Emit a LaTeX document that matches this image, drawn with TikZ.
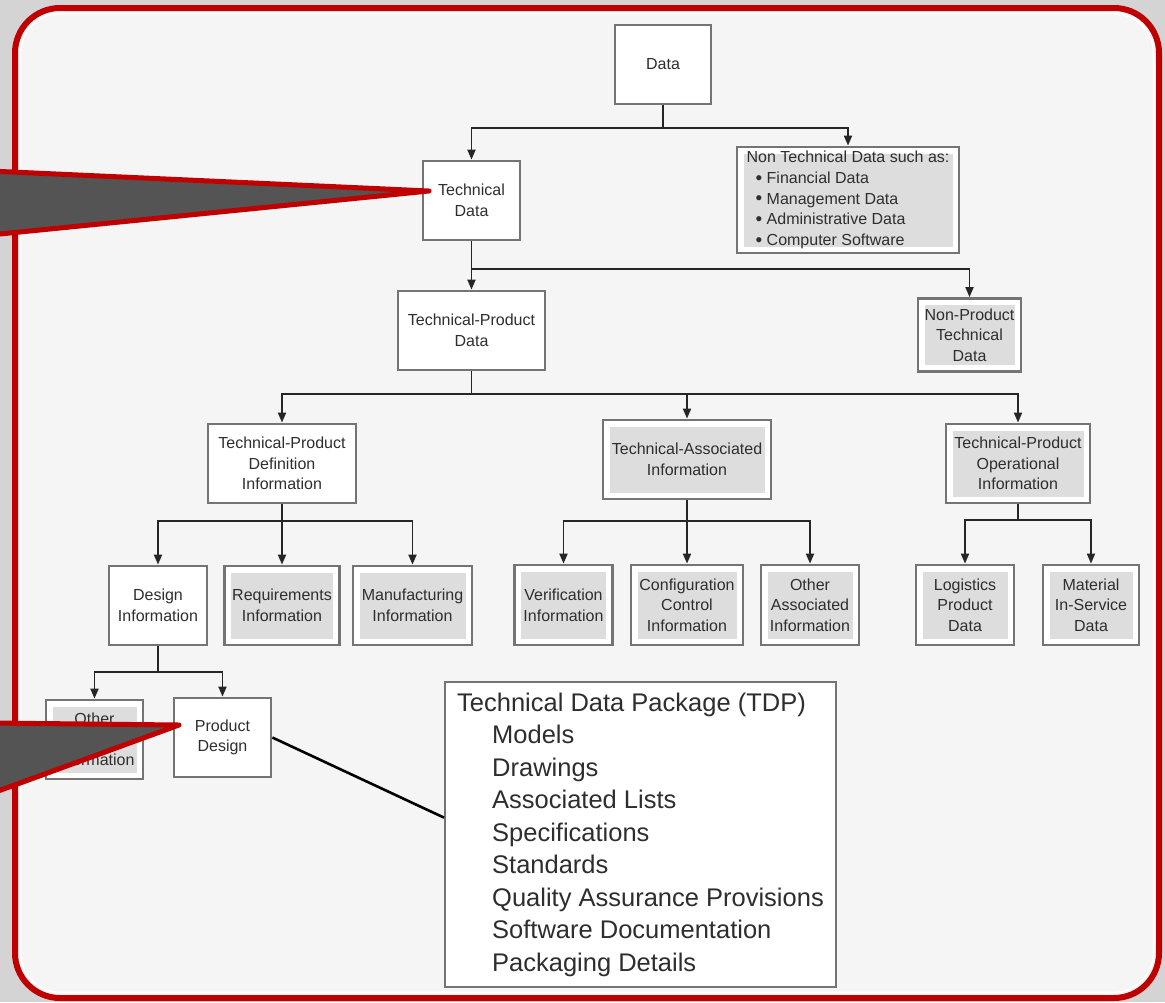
\documentclass[tikz,border=0pt]{standalone}
\usepackage{fontspec}
\setmainfont{Liberation Sans}
\usetikzlibrary{arrows.meta,calc}

\definecolor{framered}{HTML}{C00000}
\definecolor{outerbg}{HTML}{D4D4D4}
\definecolor{panel}{HTML}{F5F5F5}
\definecolor{boxline}{HTML}{747474}
\definecolor{innergray}{HTML}{DEDDDD}
\definecolor{txt}{HTML}{2E2E2E}
\definecolor{connline}{HTML}{262626}
\definecolor{calloutgray}{HTML}{545454}

\newcommand{\bigdot}{{\fontsize{19}{20.7}\selectfont\raisebox{-0.8pt}{\textbullet}}}

\begin{document}
\begin{tikzpicture}[x=1pt,y=-1pt,
  box/.style={draw=boxline, line width=2.8pt, fill=white, align=center,
    text=txt, font=\fontsize{16}{20.7}\selectfont, inner sep=0pt},
  shaded/.style={box, path picture={
    \fill[innergray] ([shift={(6.5pt,-6.5pt)}]path picture bounding box.north west)
      rectangle ([shift={(-6.5pt,6.5pt)}]path picture bounding box.south east);}},
  conn/.style={draw=connline, line width=1.9pt},
  arr/.style={conn, -{Triangle[length=10pt,width=8pt]}},
  callout/.style={fill=calloutgray, draw=framered, line width=5pt, line join=round},
]
\clip (0,0) rectangle (1165,1002);

% page and red frame
\fill[outerbg] (0,0) rectangle (1165,1002);
\draw[framered, line width=6pt, rounded corners=45pt, fill=panel] (15,8) rectangle (1159,998);
\draw[white, line width=1.6pt, rounded corners=40pt] (20.5,13.5) rectangle (1153.5,992.5);

% hierarchy of data
\node[box, minimum width=96pt, minimum height=79pt] (data) at (663,64.5) {Data};
\node[box, minimum width=97pt, minimum height=79pt] (td) at (471.5,200.5) {Technical\\Data};
\node[shaded, minimum width=222pt, minimum height=106pt, align=left] (ntd) at (848,200)
  {Non Technical Data such as:\\
   \hspace*{9pt}\bigdot\ Financial Data\\
   \hspace*{9pt}\bigdot\ Management Data\\
   \hspace*{9pt}\bigdot\ Administrative Data\\
   \hspace*{9pt}\bigdot\ Computer Software};
\node[box, minimum width=147pt, minimum height=79pt] (tpd) at (471.5,330.5) {Technical-Product\\Data};
\node[shaded, minimum width=103pt, minimum height=73pt] (nptd) at (969.5,335) {Non-Product\\Technical\\Data};

\node[box, minimum width=148pt, minimum height=79pt] (tpdi) at (282,463.5) {Technical-Product\\Definition\\Information};
\node[shaded, minimum width=168pt, minimum height=79pt] (tai) at (687,459.5) {Technical-Associated\\Information};
\node[shaded, minimum width=144pt, minimum height=79pt] (tpoi) at (1018,463.5) {Technical-Product\\Operational\\Information};

\node[box, minimum width=98pt, minimum height=79pt] (di) at (158,605.5) {Design\\Information};
\node[shaded, minimum width=115pt, minimum height=79pt] (ri) at (282,605.5) {Requirements\\Information};
\node[shaded, minimum width=119pt, minimum height=79pt] (mi) at (412.5,605.5) {Manufacturing\\Information};

\node[shaded, minimum width=98pt, minimum height=80pt] (vi) at (563.5,605) {Verification\\Information};
\node[shaded, minimum width=112pt, minimum height=80pt] (cci) at (687,605) {Configuration\\Control\\Information};
\node[shaded, minimum width=98pt, minimum height=80pt] (oai) at (810,605) {Other\\Associated\\Information};

\node[shaded, minimum width=98pt, minimum height=80pt] (lpd) at (965,605) {Logistics\\Product\\Data};
\node[shaded, minimum width=96pt, minimum height=80pt] (msd) at (1091,605) {Material\\In-Service\\Data};

\node[shaded, minimum width=97pt, minimum height=79pt] (oi) at (94.5,739.5) {Other\\[20.7pt]Information};
\node[box, minimum width=97pt, minimum height=79pt] (pd) at (222.5,737.5) {Product\\Design};

\node[box, line width=2pt, minimum width=391pt, minimum height=305pt, align=left,
  font=\fontsize{25.5}{32.5}\selectfont, text=txt] (tdp) at (640.5,834.5)
  {Technical Data Package (TDP)\\
   \hspace*{35pt}Models\\
   \hspace*{35pt}Drawings\\
   \hspace*{35pt}Associated Lists\\
   \hspace*{35pt}Specifications\\
   \hspace*{35pt}Standards\\
   \hspace*{35pt}Quality Assurance Provisions\\
   \hspace*{35pt}Software Documentation\\
   \hspace*{35pt}Packaging Details};

% connectors
\draw[arr] (data.south) -- ++(0,23) -| (td.north);
\draw[arr] (data.south) ++(0,23) -| (ntd.north);

\draw[arr] (td.south) -- ++(0,28) -| (tpd.north);
\draw[arr] (td.south) ++(0,28) -| (nptd.north);

\draw[arr] (tpd.south) -- ++(0,23) -| (tpdi.north);
\draw[arr] (tpd.south) ++(0,23) -| (tai.north);
\draw[arr] (tpd.south) ++(0,23) -| (tpoi.north);

\draw[arr] (tpdi.south) -- ++(0,17) -| (di.north);
\draw[arr] (tpdi.south) ++(0,17) -| (ri.north);
\draw[arr] (tpdi.south) ++(0,17) -| (mi.north);

\draw[arr] (tai.south) -- ++(0,21) -| (vi.north);
\draw[arr] (tai.south) ++(0,21) -| (cci.north);
\draw[arr] (tai.south) ++(0,21) -| (oai.north);

\draw[arr] (tpoi.south) -- ++(0,16) -| (lpd.north);
\draw[arr] (tpoi.south) ++(0,16) -| (msd.north);

\draw[arr] (di.south) -- ++(0,26) -| (oi.north);
\draw[arr] (di.south) ++(0,26) -| (pd.north);

\draw[black, line width=2.6pt] (pd.east) -- ($(tdp.north west)!0.445!(tdp.south west)$);

% pointer callouts
\filldraw[callout] (-10,171) -- (429,191) -- (-10,235) -- cycle;
\filldraw[callout] (-10,723) -- (179,725) -- (-10,794) -- cycle;
\end{tikzpicture}
\end{document}
